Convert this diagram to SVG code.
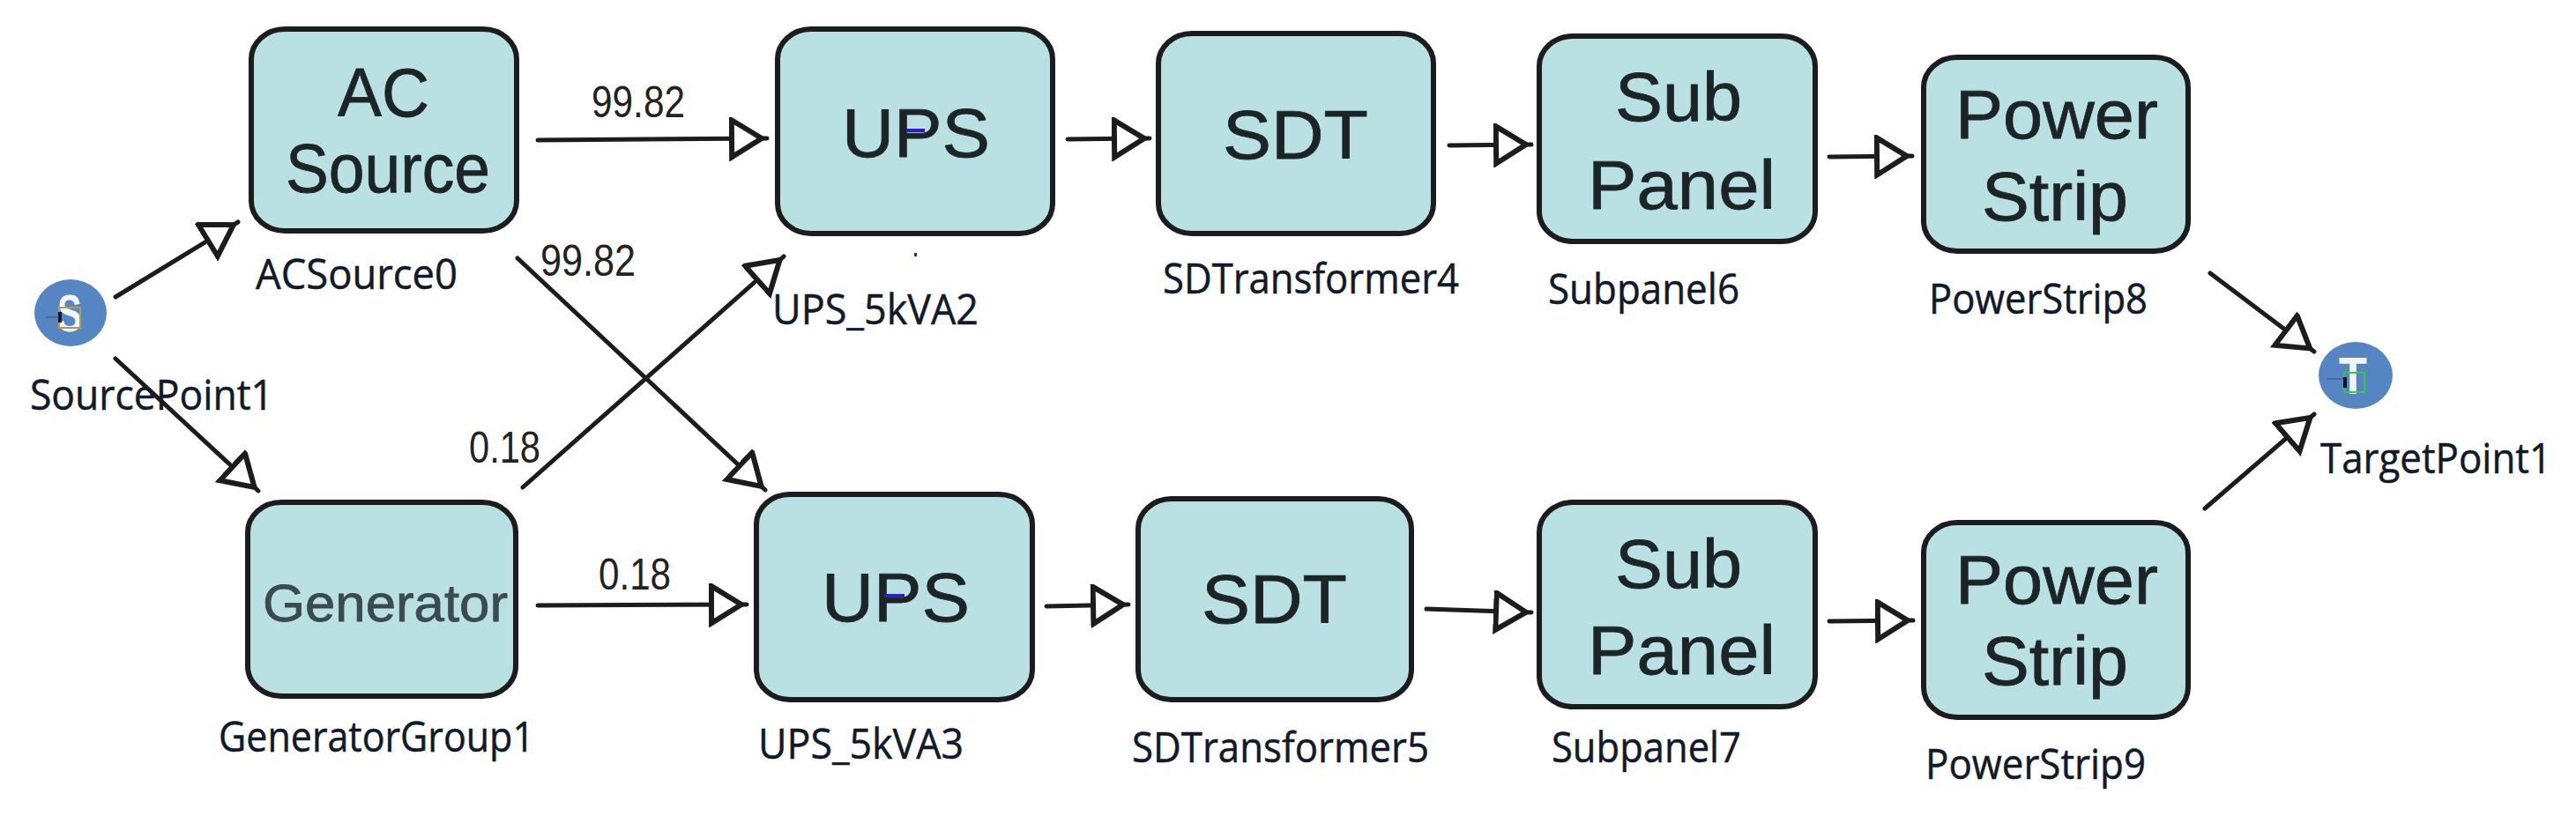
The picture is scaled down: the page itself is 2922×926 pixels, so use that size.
<svg xmlns="http://www.w3.org/2000/svg" width="2922" height="926" viewBox="0 0 2922 926">
<style>
.box{fill:#b9e0e3;stroke:#1c1c1c;stroke-width:6}
.dot{fill:#5585c2}
.t{font-family:"Liberation Sans",Arial,sans-serif;font-size:78px;fill:#1d2426;stroke:#1d2426;stroke-width:.8}
.g{font-size:60px;fill:#3b4a4d;stroke:#3b4a4d}
.l{font-family:"Open Sans","Liberation Sans",sans-serif;font-size:48px;fill:#111a2a;stroke:#111a2a;stroke-width:.5}
.e{font-family:"Liberation Sans",sans-serif;font-size:50px;fill:#222}
.pin{font-family:"Liberation Sans",sans-serif;font-weight:bold;font-size:60px;fill:#f2f5fa}
.c{fill:none;stroke:#1c1c1c;stroke-width:5;stroke-linecap:round;marker-end:url(#a)}
.mark{fill:#2a1fc0}
.fr{fill:none;stroke-width:2}
</style>
<defs>
<marker id="a" markerUnits="userSpaceOnUse" markerWidth="50" markerHeight="50" refX="43" refY="24" orient="auto">
<polygon points="3,3 37,24 3,45" fill="#fff" stroke="#1c1c1c" stroke-width="6"/>
</marker>
</defs>
<rect width="2922" height="926" fill="#fff"/>
<g id="connectors">
<line class="c" x1="131" y1="337" x2="270" y2="252"/>
<line class="c" x1="131" y1="407" x2="293" y2="557"/>
<line class="c" x1="610" y1="159" x2="870" y2="157"/>
<line class="c" x1="587" y1="293" x2="868" y2="556"/>
<line class="c" x1="593" y1="553" x2="889" y2="291"/>
<line class="c" x1="610" y1="687" x2="847" y2="686"/>
<line class="c" x1="1211" y1="158" x2="1304" y2="157"/>
<line class="c" x1="1644" y1="165" x2="1737" y2="164"/>
<line class="c" x1="2075" y1="178" x2="2169" y2="177"/>
<line class="c" x1="1187" y1="688" x2="1280" y2="686"/>
<line class="c" x1="1618" y1="691" x2="1737" y2="695"/>
<line class="c" x1="2075" y1="705" x2="2170" y2="704"/>
<line class="c" x1="2507" y1="310" x2="2625" y2="399"/>
<line class="c" x1="2501" y1="577" x2="2625" y2="470"/>
<text class="e" x="671" y="133" textLength="106" lengthAdjust="spacingAndGlyphs">99.82</text>
<text class="e" x="613" y="313" textLength="108" lengthAdjust="spacingAndGlyphs">99.82</text>
<text class="e" x="532" y="525" textLength="81" lengthAdjust="spacingAndGlyphs">0.18</text>
<text class="e" x="679" y="669" textLength="82" lengthAdjust="spacingAndGlyphs">0.18</text>
</g>
<g id="SourcePoint1">
<ellipse class="dot" cx="80" cy="355" rx="41" ry="38"/>
<text class="pin" x="65" y="376" textLength="28" lengthAdjust="spacingAndGlyphs">S</text>
<line x1="52" y1="360" x2="66" y2="360" stroke="#4a5f8a" stroke-width="1.5"/>
<rect class="fr" x="67" y="349" width="24" height="23" stroke="#b59a4a"/>
<rect x="66" y="354" width="4" height="12" fill="#14182a"/>
<text class="l" x="34" y="465" textLength="276" lengthAdjust="spacingAndGlyphs">SourcePoint1</text>
</g>
<g id="ACSource0">
<rect class="box" x="285" y="33" width="301" height="229" rx="38" ry="34"/>
<text class="t" x="383" y="132" textLength="104" lengthAdjust="spacingAndGlyphs">AC</text>
<text class="t" x="324" y="218" textLength="232" lengthAdjust="spacingAndGlyphs">Source</text>
<text class="l" x="290" y="328" textLength="229" lengthAdjust="spacingAndGlyphs">ACSource0</text>
</g>
<g id="GeneratorGroup1">
<rect class="box" x="281" y="570" width="304" height="220" rx="38" ry="34"/>
<text class="t g" x="298" y="705" textLength="278" lengthAdjust="spacingAndGlyphs">Generator</text>
<text class="l" x="248" y="853" textLength="358" lengthAdjust="spacingAndGlyphs">GeneratorGroup1</text>
</g>
<g id="UPS_5kVA2">
<rect class="box" x="882" y="33" width="312" height="232" rx="38" ry="34"/>
<text class="t" x="955" y="178" textLength="168" lengthAdjust="spacingAndGlyphs">UPS</text>
<rect class="mark" x="1028" y="146" width="21" height="4"/>
<rect class="mark" x="1037" y="287" width="3" height="4"/>
<text class="l" x="876" y="368" textLength="234" lengthAdjust="spacingAndGlyphs">UPS_5kVA2</text>
</g>
<g id="UPS_5kVA3">
<rect class="box" x="858" y="561" width="313" height="233" rx="38" ry="34"/>
<text class="t" x="932" y="705" textLength="168" lengthAdjust="spacingAndGlyphs">UPS</text>
<rect class="mark" x="1003" y="674" width="23" height="4"/>
<text class="l" x="860" y="861" textLength="233" lengthAdjust="spacingAndGlyphs">UPS_5kVA3</text>
</g>
<g id="SDTransformer4">
<rect class="box" x="1314" y="38" width="312" height="227" rx="38" ry="34"/>
<text class="t" x="1387" y="180" textLength="165" lengthAdjust="spacingAndGlyphs">SDT</text>
<text class="l" x="1319" y="333" textLength="336" lengthAdjust="spacingAndGlyphs">SDTransformer4</text>
</g>
<g id="SDTransformer5">
<rect class="box" x="1291" y="566" width="310" height="228" rx="38" ry="34"/>
<text class="t" x="1363" y="707" textLength="165" lengthAdjust="spacingAndGlyphs">SDT</text>
<text class="l" x="1284" y="865" textLength="337" lengthAdjust="spacingAndGlyphs">SDTransformer5</text>
</g>
<g id="Subpanel6">
<rect class="box" x="1746" y="41" width="313" height="233" rx="38" ry="34"/>
<text class="t" x="1832" y="137" textLength="144" lengthAdjust="spacingAndGlyphs">Sub</text>
<text class="t" x="1801" y="237" textLength="213" lengthAdjust="spacingAndGlyphs">Panel</text>
<text class="l" x="1756" y="345" textLength="217" lengthAdjust="spacingAndGlyphs">Subpanel6</text>
</g>
<g id="Subpanel7">
<rect class="box" x="1746" y="570" width="313" height="232" rx="38" ry="34"/>
<text class="t" x="1832" y="667" textLength="144" lengthAdjust="spacingAndGlyphs">Sub</text>
<text class="t" x="1801" y="765" textLength="213" lengthAdjust="spacingAndGlyphs">Panel</text>
<text class="l" x="1760" y="865" textLength="215" lengthAdjust="spacingAndGlyphs">Subpanel7</text>
</g>
<g id="PowerStrip8">
<rect class="box" x="2182" y="65" width="300" height="220" rx="38" ry="34"/>
<text class="t" x="2218" y="157" textLength="230" lengthAdjust="spacingAndGlyphs">Power</text>
<text class="t" x="2248" y="250" textLength="166" lengthAdjust="spacingAndGlyphs">Strip</text>
<text class="l" x="2188" y="356" textLength="248" lengthAdjust="spacingAndGlyphs">PowerStrip8</text>
</g>
<g id="PowerStrip9">
<rect class="box" x="2182" y="593" width="300" height="221" rx="38" ry="34"/>
<text class="t" x="2218" y="685" textLength="230" lengthAdjust="spacingAndGlyphs">Power</text>
<text class="t" x="2248" y="777" textLength="166" lengthAdjust="spacingAndGlyphs">Strip</text>
<text class="l" x="2184" y="884" textLength="250" lengthAdjust="spacingAndGlyphs">PowerStrip9</text>
</g>
<g id="TargetPoint1">
<ellipse class="dot" cx="2672" cy="426" rx="42" ry="38"/>
<text class="pin" x="2653" y="447" textLength="32" lengthAdjust="spacingAndGlyphs">T</text>
<line x1="2640" y1="430" x2="2660" y2="430" stroke="#4a5f8a" stroke-width="1.5"/>
<rect class="fr" x="2659" y="423" width="23" height="22" stroke="#35c64a"/>
<rect x="2658" y="428" width="4" height="12" fill="#1e1420"/>
<text class="l" x="2632" y="537" textLength="262" lengthAdjust="spacingAndGlyphs">TargetPoint1</text>
</g>
</svg>
